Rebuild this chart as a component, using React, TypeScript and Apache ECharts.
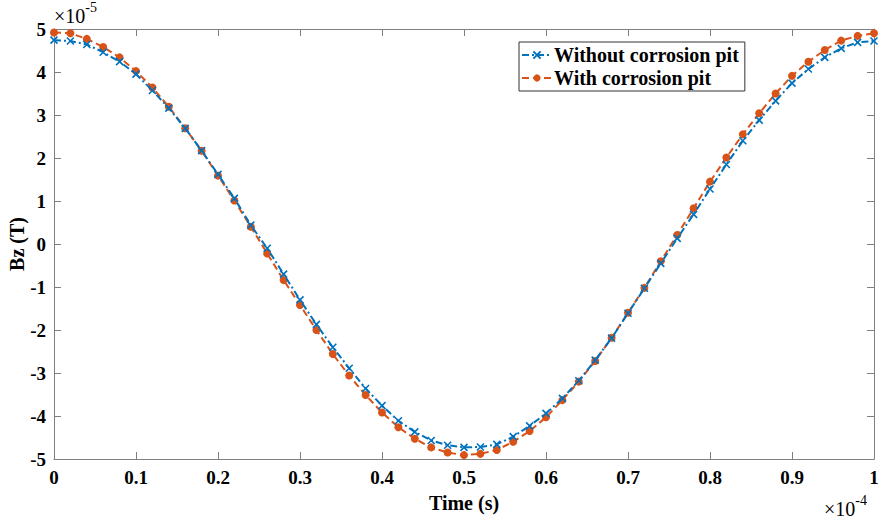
import React, { useEffect, useRef } from "react";
import * as echarts from "echarts";

// Time in units of 1e-4 s
const time = [
  0, 0.02, 0.04, 0.06, 0.08, 0.1, 0.12, 0.14, 0.16, 0.18,
  0.2, 0.22, 0.24, 0.26, 0.28, 0.3, 0.32, 0.34, 0.36, 0.38,
  0.4, 0.42, 0.44, 0.46, 0.48, 0.5, 0.52, 0.54, 0.56, 0.58,
  0.6, 0.62, 0.64, 0.66, 0.68, 0.7, 0.72, 0.74, 0.76, 0.78,
  0.8, 0.82, 0.84, 0.86, 0.88, 0.9, 0.92, 0.94, 0.96, 0.98, 1,
];

// Bz in units of 1e-5 T
const withoutPit = [
  4.74, 4.72, 4.64, 4.46, 4.24, 3.95, 3.57, 3.16, 2.69, 2.17,
  1.62, 1.06, 0.44, -0.1, -0.7, -1.3, -1.87, -2.4, -2.89, -3.36,
  -3.76, -4.11, -4.37, -4.57, -4.68, -4.73, -4.72, -4.66, -4.48, -4.23,
  -3.94, -3.59, -3.18, -2.7, -2.19, -1.61, -1.03, -0.45, 0.13, 0.69,
  1.28, 1.85, 2.4, 2.88, 3.33, 3.74, 4.07, 4.34, 4.55, 4.69, 4.72,
];

const withPit = [
  4.92, 4.9, 4.77, 4.58, 4.34, 4.02, 3.64, 3.19, 2.69, 2.17,
  1.59, 1.01, 0.4, -0.22, -0.84, -1.42, -2.0, -2.56, -3.06, -3.51,
  -3.92, -4.26, -4.53, -4.73, -4.85, -4.91, -4.88, -4.79, -4.6, -4.35,
  -4.03, -3.63, -3.2, -2.72, -2.18, -1.6, -1.02, -0.4, 0.21, 0.83,
  1.45, 2.01, 2.55, 3.04, 3.5, 3.91, 4.24, 4.51, 4.73, 4.84, 4.9,
];

const seriesNames = ["Without corrosion pit", "With corrosion pit"];
const xTitle = "Time (s)";
const yTitle = "Bz (T)";

const FONT = "'Liberation Serif', 'Times New Roman', serif";
const AXIS_COLOR = "#7f7f7f";
const BLUE = "#0072BD";
const ORANGE = "#D95319";

export default function App() {
  const ref = useRef<HTMLDivElement>(null);

  useEffect(() => {
    const chart = echarts.init(ref.current!, null, { renderer: "svg" });
    const tickLabel = {
      fontFamily: FONT,
      fontWeight: "bold" as const,
      fontSize: 19,
      color: "#000",
    };
    const axisLine = { show: true, onZero: false, lineStyle: { color: AXIS_COLOR, width: 1 } };
    const axisTick = { show: true, inside: true, length: 7, lineStyle: { color: AXIS_COLOR } };
    const expRich = {
      a: { fontFamily: FONT, fontSize: 20, fill: "#000", padding: [8, 0, 0, 0] },
      s: { fontFamily: FONT, fontSize: 14, fill: "#000", padding: [0, 0, 9, 0] },
    };

    chart.setOption({
      animation: false,
      backgroundColor: "#fff",
      grid: {
        left: 54,
        right: 9,
        top: 29,
        bottom: 63,
        containLabel: false,
        outerBoundsMode: "none",
      },
      legend: {
        left: 519,
        top: 42,
        orient: "vertical",
        itemWidth: 30,
        itemHeight: 9,
        itemGap: 3,
        padding: [3, 6, 3, 2],
        borderColor: "#333",
        borderWidth: 1,
        backgroundColor: "#fff",
        textStyle: { ...tickLabel, fontSize: 20, padding: [0, 0, 0, -3] },
        data: seriesNames,
      },
      xAxis: [
        {
          type: "value",
          min: 0,
          max: 1,
          interval: 0.1,
          position: "bottom",
          name: xTitle,
          nameLocation: "middle",
          nameGap: 34,
          nameMoveOverlap: false,
          nameTextStyle: { ...tickLabel, fontSize: 20 },
          axisLine,
          axisTick,
          splitLine: { show: false },
          axisLabel: {
            ...tickLabel,
            margin: 9,
            formatter: (v: number) => (v === 0 ? "0" : v === 1 ? "1" : v.toFixed(1)),
          },
        },
        {
          type: "value",
          min: 0,
          max: 1,
          interval: 0.1,
          position: "top",
          axisLine,
          axisTick,
          splitLine: { show: false },
          axisLabel: { show: false },
        },
      ],
      yAxis: [
        {
          type: "value",
          min: -5,
          max: 5,
          interval: 1,
          position: "left",
          name: yTitle,
          nameLocation: "middle",
          nameGap: 27,
          nameMoveOverlap: false,
          nameRotate: 90,
          nameTextStyle: { ...tickLabel, fontSize: 20 },
          axisLine,
          axisTick,
          splitLine: { show: false },
          axisLabel: { ...tickLabel, margin: 8, formatter: (v: number) => String(v) },
        },
        {
          type: "value",
          min: -5,
          max: 5,
          interval: 1,
          position: "right",
          axisLine,
          axisTick,
          splitLine: { show: false },
          axisLabel: { show: false },
        },
      ],
      graphic: [
        {
          type: "text",
          left: 54,
          top: 0,
          style: { text: "{a|×10}{s|-5}", rich: expRich },
        },
        {
          type: "text",
          left: 824,
          top: 493,
          style: { text: "{a|×10}{s|-4}", rich: expRich },
        },
      ],
      series: [
        {
          name: seriesNames[0],
          type: "line",
          xAxisIndex: 0,
          yAxisIndex: 0,
          data: time.map((t, i) => [t, withoutPit[i]]),
          symbol: "path://M0 0L10 10M10 0L0 10",
          symbolSize: 7,
          itemStyle: { color: "rgba(0,0,0,0)", borderColor: BLUE, borderWidth: 1.6 },
          lineStyle: { color: BLUE, width: 2, type: [7, 3, 2, 3] },
          z: 3,
        },
        {
          name: seriesNames[1],
          type: "line",
          xAxisIndex: 0,
          yAxisIndex: 0,
          data: time.map((t, i) => [t, withPit[i]]),
          symbol: "circle",
          symbolSize: 8,
          itemStyle: { color: ORANGE, borderColor: ORANGE, borderWidth: 0 },
          lineStyle: { color: ORANGE, width: 2, type: [7, 4] },
          z: 2,
        },
      ],
    });

    return () => chart.dispose();
  }, []);

  return (
    <div
      ref={ref}
      style={{ position: "fixed", left: 0, top: 0, width: 883, height: 522, background: "#fff" }}
    />
  );
}
